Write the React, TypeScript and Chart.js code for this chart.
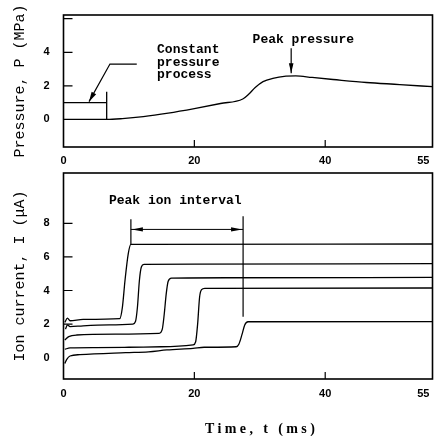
import React, { useEffect, useRef } from "react";
import { Chart, registerables } from "chart.js";

Chart.register(...registerables);

// ---------- data ----------
const T_MAX = 56.4;
const X_TICKS = [0, 20, 40, 55];

const P_MIN = -1.64;
const P_MAX = 6.22;
const P_TICKS = [0, 2, 4, 6];
const P_LABELED = [0, 2, 4];

const I_MIN = -1.27;
const I_MAX = 11.0;
const I_TICKS = [0, 2, 4, 6, 8];

// pressure trace (t ms, P MPa)
const pressureT = [0, 6.6, 9, 12.2, 16, 20, 24, 27.4, 28.3, 29.3, 30.5, 32, 34, 35.5, 38, 41.2, 46.3, 51.4, 56.4];
const pressureP = [0, 0, 0.05, 0.17, 0.38, 0.65, 0.95, 1.22, 1.5, 1.9, 2.25, 2.45, 2.58, 2.6, 2.5, 2.38, 2.2, 2.08, 1.95];

// constant pressure process
const constT = [0, 6.6];
const constP = [1, 1];

// ion current traces (t ms, I µA)
const ionA: number[][] = [[0.2, 2.1], [0.6, 2.35], [1.0, 2.2], [3, 2.28], [8.6, 2.33], [9.0, 3.0], [9.4, 4.6], [9.9, 6.2], [10.3, 6.75], [12, 6.75], [56.4, 6.77]];
const ionB: number[][] = [[0.3, 1.7], [0.6, 1.95], [1.0, 1.85], [3, 1.9], [7, 1.95], [10.6, 2.0], [11.0, 2.15], [11.3, 3.0], [11.6, 4.6], [11.9, 5.4], [12.3, 5.56], [20, 5.57], [56.4, 5.6]];
const ionC: number[][] = [[0.2, 1.05], [0.8, 1.25], [2, 1.35], [8, 1.4], [14.6, 1.45], [15.1, 1.7], [15.4, 2.6], [15.7, 3.8], [16.0, 4.55], [16.5, 4.74], [25, 4.76], [56.4, 4.78]];
const ionD: number[][] = [[0.2, 0.5], [1, 0.58], [5, 0.6], [10, 0.62], [15, 0.65], [19.8, 0.76], [20.2, 0.95], [20.5, 2.0], [20.8, 3.6], [21.1, 4.05], [21.6, 4.13], [56.4, 4.15]];
const ionE: number[][] = [[0.2, -0.35], [0.5, -0.1], [1.0, 0.1], [2.5, 0.18], [9.5, 0.3], [13, 0.35], [15.8, 0.46], [19.8, 0.56], [21.5, 0.62], [26.4, 0.65], [26.8, 0.8], [27.3, 1.4], [27.7, 1.95], [28.2, 2.14], [56.4, 2.15]];

// annotations (data coordinates)
const peakPressureArrow = [[34.8, 4.24], [34.8, 2.75]];
const constLeader = [[11.2, 3.3], [7.1, 3.3], [3.9, 1.06]];
const constMarker = [[6.6, 0], [6.6, 1.65]];
const pressureNotes = [
  { text: "Peak pressure", t: 28.9, v: 4.58 },
  { text: "Constant", t: 14.3, v: 3.96 },
  { text: "pressure", t: 14.3, v: 3.2 },
  { text: "process", t: 14.3, v: 2.44 },
];

const ionLeftBar = [[10.3, 6.75], [10.3, 8.24]];
const ionRightBar = [[27.45, 2.44], [27.45, 8.43]];
const ionInterval = [[10.3, 7.64], [27.45, 7.64]];
const ionNotes = [{ text: "Peak ion interval", t: 6.95, v: 9.15 }];

// ---------- styling helpers ----------
const BLACK = "#000";
const MONO = "'Liberation Mono', 'DejaVu Sans Mono', monospace";
const SANS = "'Liberation Sans', Arial, sans-serif";
const SERIF = "'Liberation Serif', 'Times New Roman', serif";

function arrowHead(ctx: CanvasRenderingContext2D, x1: number, y1: number, x2: number, y2: number, len = 10, half = 2.4) {
  const a = Math.atan2(y2 - y1, x2 - x1);
  const c = Math.cos(a), s = Math.sin(a);
  ctx.beginPath();
  ctx.moveTo(x2, y2);
  ctx.lineTo(x2 - len * c + half * s, y2 - len * s - half * c);
  ctx.lineTo(x2 - len * c - half * s, y2 - len * s + half * c);
  ctx.closePath();
  ctx.fill();
}

function polyline(chart: any, pts: number[][], lw = 1.2) {
  const { ctx, scales } = chart;
  ctx.beginPath();
  pts.forEach(([t, v], i) => {
    const x = scales.x.getPixelForValue(t);
    const y = scales.y.getPixelForValue(v);
    if (i === 0) ctx.moveTo(x, y);
    else ctx.lineTo(x, y);
  });
  ctx.lineWidth = lw;
  ctx.stroke();
}

function px(chart: any, p: number[]) {
  return [chart.scales.x.getPixelForValue(p[0]), chart.scales.y.getPixelForValue(p[1])];
}

function framePlugin(yMarks: number[], xMarks: number[]) {
  return {
    id: "frameTicks",
    afterDatasetsDraw(chart: any) {
      const { ctx, chartArea: a, scales } = chart;
      ctx.save();
      ctx.strokeStyle = BLACK;
      ctx.lineWidth = 1.6;
      ctx.strokeRect(a.left, a.top, a.right - a.left, a.bottom - a.top);
      ctx.lineWidth = 1.2;
      ctx.beginPath();
      for (const v of yMarks) {
        const y = scales.y.getPixelForValue(v);
        ctx.moveTo(a.left, y);
        ctx.lineTo(a.left + 9, y);
      }
      for (const v of xMarks) {
        const x = scales.x.getPixelForValue(v);
        ctx.moveTo(x, a.bottom);
        ctx.lineTo(x, a.bottom - 7);
      }
      ctx.stroke();
      ctx.restore();
    },
  };
}

const pressureAnnotations = {
  id: "pressureNotes",
  afterDraw(chart: any) {
    const { ctx, scales } = chart;
    ctx.save();
    ctx.strokeStyle = BLACK;
    ctx.fillStyle = BLACK;
    polyline(chart, constMarker, 1.3);
    polyline(chart, peakPressureArrow, 1.2);
    {
      const [x1, y1] = px(chart, peakPressureArrow[0]);
      const [x2, y2] = px(chart, peakPressureArrow[1]);
      arrowHead(ctx, x1, y1, x2, y2, 10, 2.3);
    }
    polyline(chart, constLeader, 1.2);
    {
      const n = constLeader.length;
      const [x1, y1] = px(chart, constLeader[n - 2]);
      const [x2, y2] = px(chart, constLeader[n - 1]);
      arrowHead(ctx, x1, y1, x2, y2, 10, 2.6);
    }
    ctx.font = `bold 13px ${MONO}`;
    ctx.textAlign = "left";
    ctx.textBaseline = "alphabetic";
    for (const n of pressureNotes) {
      ctx.fillText(n.text, scales.x.getPixelForValue(n.t), scales.y.getPixelForValue(n.v));
    }
    ctx.restore();
  },
};

const ionAnnotations = {
  id: "ionNotes",
  afterDraw(chart: any) {
    const { ctx, scales, chartArea } = chart;
    ctx.save();
    ctx.strokeStyle = BLACK;
    ctx.fillStyle = BLACK;
    polyline(chart, ionLeftBar, 1.2);
    polyline(chart, ionRightBar, 1.2);
    polyline(chart, ionInterval, 1.0);
    const [lx, ly] = px(chart, ionInterval[0]);
    const [rx, ry] = px(chart, ionInterval[1]);
    arrowHead(ctx, rx, ry, lx + 1, ly, 11, 2.2);
    arrowHead(ctx, lx, ly, rx - 1, ry, 11, 2.2);
    ctx.font = `bold 13px ${MONO}`;
    ctx.textAlign = "left";
    ctx.textBaseline = "alphabetic";
    for (const n of ionNotes) {
      ctx.fillText(n.text, scales.x.getPixelForValue(n.t), scales.y.getPixelForValue(n.v));
    }
    // x-axis title
    ctx.font = `bold 14px ${SERIF}`;
    (ctx as any).letterSpacing = "3.4px";
    ctx.fillText("Time, t (ms)", chartArea.left + 141.5, chart.height - 3);
    ctx.restore();
  },
};

function xScale(height: number, pad: number) {
  return {
    type: "linear" as const,
    min: 0,
    max: T_MAX,
    afterBuildTicks: (s: any) => {
      s.ticks = X_TICKS.map((v) => ({ value: v }));
    },
    afterFit: (s: any) => {
      s.height = height;
      s.paddingLeft = 0;
      s.paddingRight = 0;
      s.paddingTop = 0;
      s.paddingBottom = 0;
    },
    grid: { display: false, drawTicks: false },
    border: { display: false },
    ticks: {
      padding: pad,
      color: BLACK,
      maxRotation: 0,
      autoSkip: false,
      font: { family: SANS, size: 11, weight: "bold" as const },
      callback: (v: any) => String(v),
    },
  };
}

function yScale(min: number, max: number, ticks: number[], labeled: number[], title: string) {
  return {
    type: "linear" as const,
    min,
    max,
    afterBuildTicks: (s: any) => {
      s.ticks = ticks.map((v) => ({ value: v }));
    },
    afterFit: (s: any) => {
      s.width = 63.5;
      s.paddingTop = 0;
      s.paddingBottom = 0;
      s.paddingLeft = 0;
      s.paddingRight = 0;
    },
    grid: { display: false, drawTicks: false },
    border: { display: false },
    ticks: {
      padding: 14,
      color: BLACK,
      font: { family: SANS, size: 11, weight: "bold" as const },
      callback: (v: any) => (labeled.includes(v) ? String(v) : ""),
    },
    title: {
      display: true,
      text: title,
      color: BLACK,
      font: { family: MONO, size: 15 },
      padding: { top: 11, bottom: 0 },
    },
  };
}

const lineStyle = {
  borderColor: BLACK,
  borderWidth: 1.3,
  pointRadius: 0,
  fill: false,
  cubicInterpolationMode: "monotone" as const,
};

export default function App() {
  const ref1 = useRef<HTMLCanvasElement>(null);
  const ref2 = useRef<HTMLCanvasElement>(null);

  useEffect(() => {
    const c1 = new Chart(ref1.current!, {
      type: "line",
      data: {
        datasets: [
          { ...lineStyle, label: "Pressure", data: pressureT.map((t, i) => ({ x: t, y: pressureP[i] })) },
          { ...lineStyle, label: "Constant pressure", data: constT.map((t, i) => ({ x: t, y: constP[i] })) },
        ],
      },
      options: {
        animation: false,
        responsive: false,
        layout: { padding: { left: 0, right: 13.5, top: 15, bottom: 0 } },
        plugins: { legend: { display: false }, tooltip: { enabled: false } },
        scales: {
          x: xScale(21, 7),
          y: yScale(P_MIN, P_MAX, P_TICKS, P_LABELED, "Pressure, P (MPa)"),
        },
      },
      plugins: [framePlugin([2, 4, 6], [20, 40]), pressureAnnotations],
    });

    const ionSets = [ionA, ionB, ionC, ionD, ionE];
    const c2 = new Chart(ref2.current!, {
      type: "line",
      data: {
        datasets: ionSets.map((s, k) => ({
          ...lineStyle,
          label: `Ion ${k + 1}`,
          data: s.map(([t, v]) => ({ x: t, y: v })),
        })),
      },
      options: {
        animation: false,
        responsive: false,
        layout: { padding: { left: 0, right: 13.5, top: 5, bottom: 0 } },
        plugins: { legend: { display: false }, tooltip: { enabled: false } },
        scales: {
          x: xScale(57, 8),
          y: yScale(I_MIN, I_MAX, I_TICKS, I_TICKS, "Ion current, I (\u03BCA)"),
        },
      },
      plugins: [framePlugin([2, 4, 6, 8], [20, 40]), ionAnnotations],
    });

    return () => {
      c1.destroy();
      c2.destroy();
    };
  }, []);

  return (
    <div style={{ position: "fixed", left: 0, top: 0, width: 446, height: 436, background: "#fff" }}>
      <canvas ref={ref1} width={446} height={168} style={{ position: "absolute", left: 0, top: 0, display: "block" }} />
      <canvas ref={ref2} width={446} height={268} style={{ position: "absolute", left: 0, top: 168, display: "block" }} />
    </div>
  );
}
